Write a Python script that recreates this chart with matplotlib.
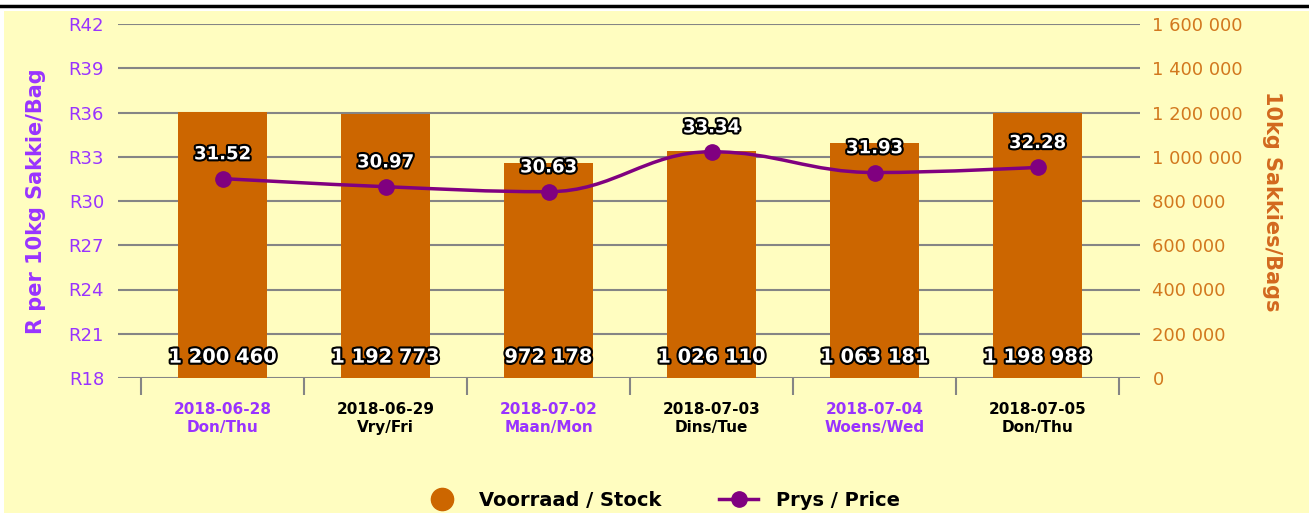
import numpy as np
import matplotlib.pyplot as plt
import matplotlib.patheffects as pe
from matplotlib.path import Path
from matplotlib.patches import PathPatch, Rectangle
from matplotlib.lines import Line2D

#%% data
dates = ['2018-06-28', '2018-06-29', '2018-07-02', '2018-07-03', '2018-07-04', '2018-07-05']
days = ['Don/Thu', 'Vry/Fri', 'Maan/Mon', 'Dins/Tue', 'Woens/Wed', 'Don/Thu']
stock = [1200460, 1192773, 972178, 1026110, 1063181, 1198988]
price = [31.52, 30.97, 30.63, 33.34, 31.93, 32.28]
price_ticks = [18, 21, 24, 27, 30, 33, 36, 39, 42]
stock_ticks = [0, 200000, 400000, 600000, 800000, 1000000, 1200000, 1400000, 1600000]

bar_col = '#CC6600'
line_col = '#800080'
purple = '#9933FF'
orange = '#D2781E'
grid_col = '#858585'

def spaced(v):
    return '{:,}'.format(v).replace(',', ' ')

def spline_path(xs, ys, smoothing=1.5):
    # smooth curve through the points, control points clamped so no overshoot
    n = len(xs)
    left = [None] * n
    right = [None] * n
    for i in range(1, n - 1):
        px, py = xs[i], ys[i]
        lx, ly = xs[i - 1], ys[i - 1]
        nx, ny = xs[i + 1], ys[i + 1]
        d = smoothing + 1
        lcx, lcy = (smoothing * px + lx) / d, (smoothing * py + ly) / d
        rcx, rcy = (smoothing * px + nx) / d, (smoothing * py + ny) / d
        corr = (rcy - lcy) * (rcx - px) / (rcx - lcx) + py - rcy
        lcy += corr
        rcy += corr
        if lcy > ly and lcy > py:
            lcy = max(ly, py); rcy = 2 * py - lcy
        elif lcy < ly and lcy < py:
            lcy = min(ly, py); rcy = 2 * py - lcy
        if rcy > ny and rcy > py:
            rcy = max(ny, py); lcy = 2 * py - rcy
        elif rcy < ny and rcy < py:
            rcy = min(ny, py); lcy = 2 * py - rcy
        left[i] = (lcx, lcy)
        right[i] = (rcx, rcy)
    verts = [(xs[0], ys[0])]
    codes = [Path.MOVETO]
    for i in range(1, n):
        c1 = right[i - 1] or (xs[i - 1], ys[i - 1])
        c2 = left[i] or (xs[i], ys[i])
        verts += [c1, c2, (xs[i], ys[i])]
        codes += [Path.CURVE4] * 3
    return Path(verts, codes)

fig = plt.figure(figsize=(13.09, 5.13), dpi=100, facecolor='white')
# pale yellow panel + black rule at the top
fig.patches.append(Rectangle((4/1309, 0), 1 - 4/1309, 1 - 11/513, transform=fig.transFigure,
                             facecolor='#FFFDC0', edgecolor='none', zorder=-5))
fig.add_artist(Line2D([0, 1], [1 - 6/513, 1 - 6/513], color='black', lw=2.5))

ax = fig.add_axes([118/1309, 1 - 378/513, 1022/1309, 354/513])
ax.set_facecolor('none')
ax2 = ax.twinx()
ax.set_zorder(ax2.get_zorder() + 1)  # price line on top of bars

x = np.arange(len(dates))

#%% bars on the right axis
for v in stock_ticks:
    ax2.axhline(v, color=grid_col, lw=1.5, zorder=1)
ax2.bar(x, stock, width=0.55, color=bar_col, zorder=2)
ax2.set_ylim(0, 1600000)
ax2.set_yticks(stock_ticks)
ax2.set_yticklabels([spaced(v) for v in stock_ticks], color=orange, fontsize=13)
ax2.tick_params(axis='y', length=0, pad=9)
ax2.set_ylabel('10kg Sakkies/Bags', color='#D2691E', fontsize=15, fontweight='bold',
               rotation=270, labelpad=28)

#%% price line
ax.set_ylim(18, 42)
ax.set_xlim(-0.5 - 23/163, -0.5 - 23/163 + 1022/163)
ax.add_patch(PathPatch(spline_path(list(x.astype(float)), price), facecolor='none',
                       edgecolor=line_col, lw=2.5, zorder=3))
ax.plot(x, price, 'o', color=line_col, markersize=11, zorder=4)

outline = [pe.withStroke(linewidth=3, foreground='black')]
for xi, p in zip(x, price):
    ax.annotate('{:.2f}'.format(p), (xi, p), xytext=(0, 11), textcoords='offset points',
                ha='center', va='bottom', color='white', fontsize=13, fontweight='bold',
                path_effects=outline, zorder=5)
for xi, s in zip(x, stock):
    ax.annotate(spaced(s), (xi, 18), xytext=(0, 15), textcoords='offset points',
                ha='center', va='center', color='white', fontsize=14, fontweight='bold',
                path_effects=outline, zorder=5)

#%% left axis, category ticks
ax.set_yticks(price_ticks)
ax.set_yticklabels(['R{}'.format(v) for v in price_ticks], color=purple, fontsize=13)
ax.tick_params(axis='y', length=0, pad=10)
ax.set_ylabel('R per 10kg Sakkie/Bag', color=purple, fontsize=15, fontweight='bold', labelpad=16)

ax.set_xticks(x)
ax.set_xticklabels(['{}\n{}'.format(d, w) for d, w in zip(dates, days)], fontsize=11,
                   fontweight='bold', linespacing=1.25)
for i, lab in enumerate(ax.get_xticklabels()):
    lab.set_color(purple if i % 2 == 0 else 'black')
ax.tick_params(axis='x', length=0, pad=17)
ax.set_xticks(np.arange(-0.5, len(dates)), minor=True)
ax.tick_params(axis='x', which='minor', length=12, width=1.5, color=grid_col)

for a in (ax, ax2):
    for sp in a.spines.values():
        sp.set_visible(False)

#%% legend
handles = [Line2D([], [], ls='none', marker='o', color=bar_col, markersize=16),
           Line2D([], [], color=line_col, lw=2.5, marker='o', markersize=11)]
fig.legend(handles, ['Voorraad / Stock', 'Prys / Price'], loc='center', bbox_to_anchor=(0.505, 0.025),
           ncol=2, frameon=False, prop={'weight': 'bold', 'size': 14}, columnspacing=3.0,
           handlelength=2.0, handletextpad=0.9)

fig.savefig('out.png', dpi=100, facecolor=fig.get_facecolor())
